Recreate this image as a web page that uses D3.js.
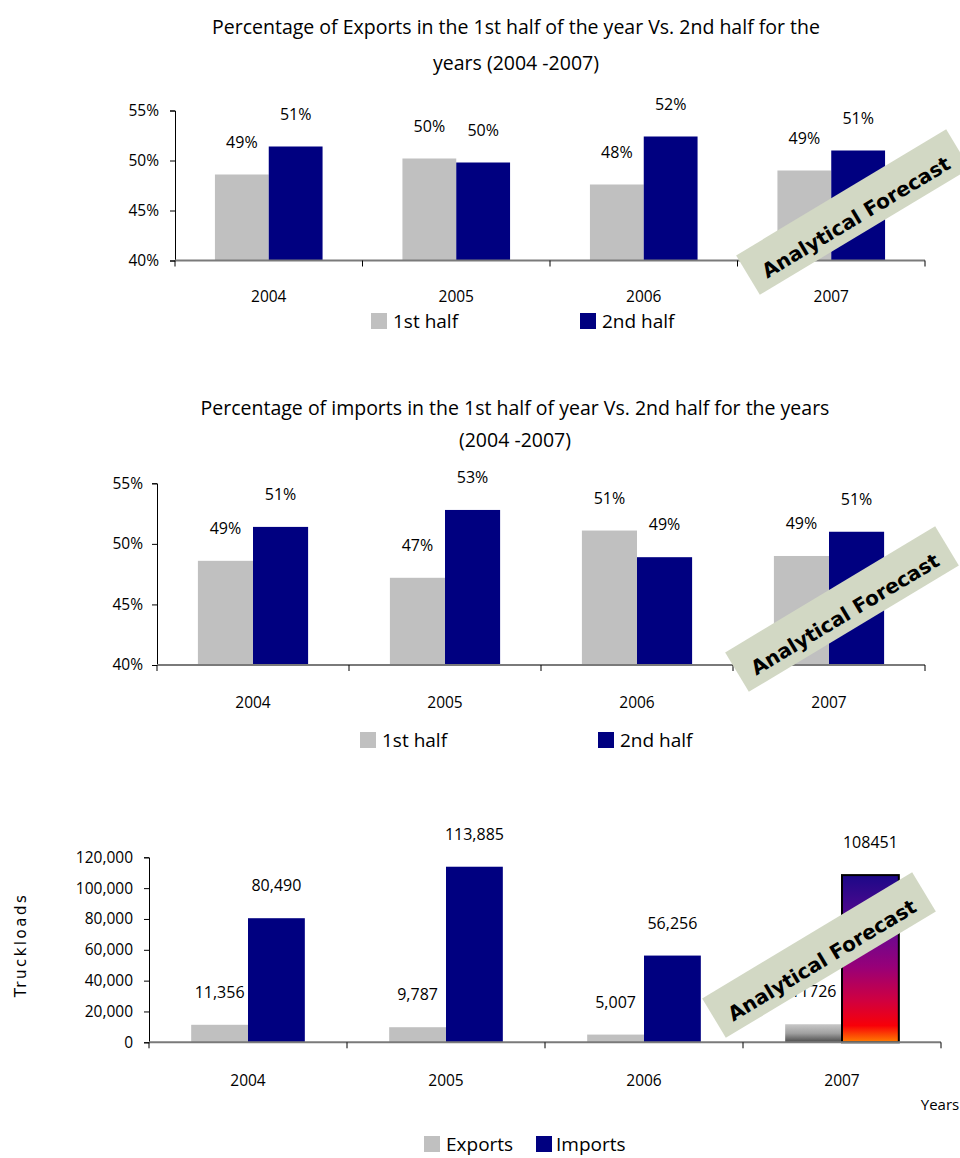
<!DOCTYPE html>
<html>
<head>
<meta charset="utf-8">
<script src="https://cdn.jsdelivr.net/npm/d3@7"></script>
<style>
  html, body { margin: 0; padding: 0; background: #fff; }
  svg { display: block; }
  text { font-family: "Open Sans", Lato, sans-serif; fill: #000; }
  .stamp text { font-family: "DejaVu Sans", Verdana, sans-serif; font-weight: bold; }
</style>
</head>
<body>
<script>
// ---- data ----
const years = ["2004", "2005", "2006", "2007"];
const forecastYear = "2007";

// share of yearly exports / imports in each half of the year (%)
const exportsFirstHalf  = [48.6, 50.2, 47.6, 49.0];
const exportsSecondHalf = [51.4, 49.8, 52.4, 51.0];
const importsFirstHalf  = [48.6, 47.2, 51.1, 49.0];
const importsSecondHalf = [51.4, 52.8, 48.9, 51.0];
const pctTicks = [40, 45, 50, 55];

// truckloads per year
const truckExports = [11356, 9787, 5007, 11726];
const truckImports = [80490, 113885, 56256, 108451];
const truckTicks = [0, 20000, 40000, 60000, 80000, 100000, 120000];

const halfNames = ["1st half", "2nd half"];
const flowNames = ["Exports", "Imports"];
const GREY = "#c0c0c0", NAVY = "#000080";

const svg = d3.select("body").append("svg")
  .attr("width", 960).attr("height", 1158);

const defs = svg.append("defs");
const impGrad = defs.append("linearGradient").attr("id", "forecastImports")
  .attr("x1", 0).attr("y1", 0).attr("x2", 0).attr("y2", 1);
[[0, "#1c0888"], [0.35, "#6a0890"], [0.55, "#980078"], [0.75, "#d00040"],
 [0.9, "#f80008"], [1, "#ff8000"]].forEach(([o, c]) =>
  impGrad.append("stop").attr("offset", o).attr("stop-color", c));
const expGrad = defs.append("linearGradient").attr("id", "forecastExports")
  .attr("x1", 0).attr("y1", 0).attr("x2", 0).attr("y2", 1);
[[0, "#c8c8c8"], [0.5, "#a0a0a0"], [1, "#4a4a4a"]].forEach(([o, c]) =>
  expGrad.append("stop").attr("offset", o).attr("stop-color", c));

// grouped two-series bar chart
function barChart(cfg) {
  const g = svg.append("g");
  const x = d3.scaleBand().domain(years).range([cfg.left, cfg.right]);
  const bw = x.bandwidth();
  const inner = d3.scaleBand().domain([0, 1])
    .range([bw * 0.213, bw * 0.787]);
  const y = d3.scaleLinear().domain(cfg.domain).range([cfg.bottom, cfg.top]);

  // y axis
  const yAxis = d3.axisLeft(y).tickValues(cfg.ticks).tickSize(5)
    .tickPadding(cfg.tickPad).tickFormat(cfg.tickFmt);
  const ya = g.append("g").attr("transform", `translate(${cfg.left},0)`).call(yAxis);
  ya.select(".domain").attr("stroke", "#000").attr("stroke-width", 1);
  ya.selectAll(".tick line").attr("stroke", "#000");
  ya.selectAll(".tick text").style("font-size", "15.5px").attr("fill", "#000")
    .style("font-family", "'Open Sans', sans-serif");

  // bars
  cfg.series.forEach((s, si) => {
    g.selectAll(null).data(years).join("rect")
      .attr("x", d => x(d) + inner(si))
      .attr("width", inner.bandwidth())
      .attr("y", (d, i) => y(s.values[i]))
      .attr("height", (d, i) => y(cfg.domain[0]) - y(s.values[i]))
      .attr("fill", d => (cfg.forecastFill && d === forecastYear) ? cfg.forecastFill[si] : s.color)
      .attr("stroke", d => (cfg.forecastFill && d === forecastYear && si === 1) ? "#000" : "none")
      .attr("stroke-width", 2);
    g.selectAll(null).data(years).join("text")
      .attr("x", d => x(d) + inner(si) + inner.bandwidth() / 2)
      .attr("y", (d, i) => y(s.values[i]) - 27)
      .attr("text-anchor", "middle")
      .style("font-size", "16px")
      .text((d, i) => cfg.labelFmt(s.values[i], d));
  });

  // x axis: baseline plus boundary ticks
  g.append("line")
    .attr("x1", cfg.left).attr("x2", cfg.right)
    .attr("y1", y(cfg.domain[0])).attr("y2", y(cfg.domain[0]))
    .attr("stroke", "#7a7a7a").attr("stroke-width", 2);
  const bounds = years.map(d => x(d)).concat([x(years[years.length - 1]) + bw]);
  g.selectAll(null).data(bounds).join("line")
    .attr("x1", d => d).attr("x2", d => d)
    .attr("y1", y(cfg.domain[0])).attr("y2", y(cfg.domain[0]) + 6)
    .attr("stroke", "#000");
  g.selectAll(null).data(years).join("text")
    .attr("x", d => x(d) + bw / 2).attr("y", cfg.yearY)
    .attr("text-anchor", "middle").style("font-size", "15.5px")
    .text(d => d);

  // legend
  cfg.legend.forEach((l, i) => {
    g.append("rect").attr("x", l.x).attr("y", cfg.legendY - 8)
      .attr("width", 16).attr("height", 16).attr("fill", cfg.series[i].color);
    g.append("text").attr("x", l.x + l.gap).attr("y", cfg.legendY + 6.5)
      .style("font-size", "19px").text(l.name);
  });

  // forecast stamp
  const st = svg.append("g").attr("class", "stamp")
    .attr("transform", `translate(${cfg.stamp[0]},${cfg.stamp[1]}) rotate(-31)`);
  st.append("rect").attr("x", -122.5).attr("y", -23).attr("width", 245).attr("height", 46)
    .attr("fill", "#d2d8c4");
  st.append("text").attr("x", 0).attr("y", 13).attr("text-anchor", "middle")
    .style("font-size", "20px").text("Analytical Forecast");
  return { x, y };
}

function title(lines, cx, ys) {
  lines.forEach((t, i) => svg.append("text").attr("x", cx).attr("y", ys[i])
    .attr("text-anchor", "middle").style("font-size", "19.5px").text(t));
}

const pctLabel = v => d3.format(".0f")(v) + "%";

// ---- chart 1: exports by half ----
title(["Percentage of Exports in the 1st half of the year Vs. 2nd half for the",
       "years (2004 -2007)"], 516, [34, 70]);
barChart({
  left: 175, right: 925, top: 110.5, bottom: 260.5,
  domain: [40, 55], ticks: pctTicks, tickPad: 11, tickFmt: d => d + "%",
  series: [{ values: exportsFirstHalf, color: GREY }, { values: exportsSecondHalf, color: NAVY }],
  labelFmt: pctLabel, yearY: 302,
  legendY: 321, legend: [{ x: 371, gap: 22, name: halfNames[0] }, { x: 580, gap: 22, name: halfNames[1] }],
  stamp: [853, 212]
});

// ---- chart 2: imports by half ----
title(["Percentage of imports in the 1st half of year Vs. 2nd half for the years",
       "(2004 -2007)"], 515, [415, 447]);
barChart({
  left: 157, right: 925, top: 483.3, bottom: 665,
  domain: [40, 55], ticks: pctTicks, tickPad: 9, tickFmt: d => d + "%",
  series: [{ values: importsFirstHalf, color: GREY }, { values: importsSecondHalf, color: NAVY }],
  labelFmt: pctLabel, yearY: 708,
  legendY: 740, legend: [{ x: 360, gap: 22, name: halfNames[0] }, { x: 598, gap: 22, name: halfNames[1] }],
  stamp: [842, 609]
});

// ---- chart 3: truckloads ----
barChart({
  left: 149, right: 941, top: 857.3, bottom: 1042.3,
  domain: [0, 120000], ticks: truckTicks, tickPad: 11, tickFmt: d3.format(","),
  series: [{ values: truckExports, color: GREY }, { values: truckImports, color: NAVY }],
  labelFmt: (v, yr) => yr === forecastYear ? d3.format("d")(v) : d3.format(",")(v),
  forecastFill: ["url(#forecastExports)", "url(#forecastImports)"],
  yearY: 1086,
  legendY: 1144, legend: [{ x: 424, gap: 22, name: flowNames[0] }, { x: 536, gap: 20, name: flowNames[1] }],
  stamp: [819, 955]
});

svg.append("text").attr("transform", "translate(26,945) rotate(-90)")
  .attr("text-anchor", "middle").style("font-size", "15px")
  .style("letter-spacing", "2.5px").style("font-family", "'DejaVu Sans', sans-serif")
  .text("Truckloads");
svg.append("text").attr("x", 940).attr("y", 1110).attr("text-anchor", "middle")
  .style("font-size", "15px").text("Years");
</script>
</body>
</html>
